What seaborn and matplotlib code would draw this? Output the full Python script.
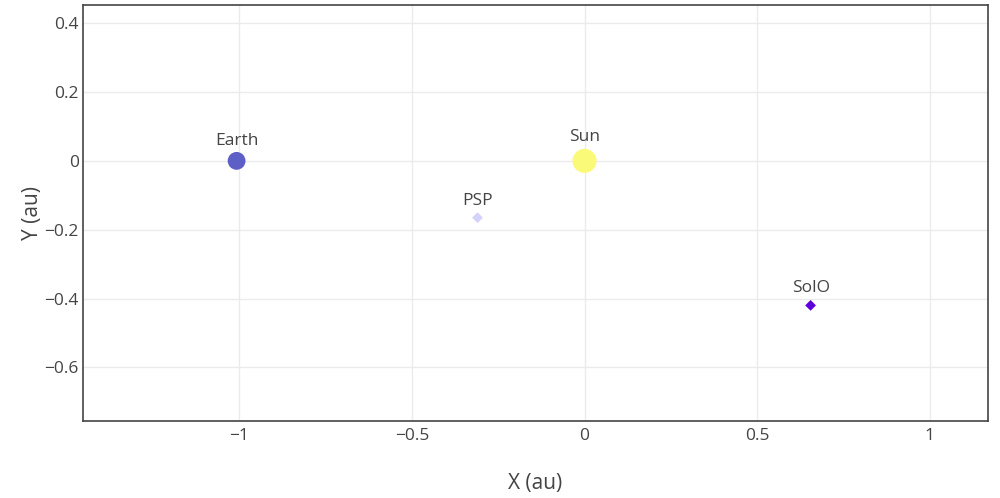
import matplotlib
matplotlib.use("Agg")
import matplotlib.pyplot as plt
import seaborn as sns
import pandas as pd

bodies = ["Earth", "Sun", "PSP", "SolO"]
x_au = [-1.008, 0.0, -0.31, 0.655]
y_au = [0.0, 0.0, -0.165, -0.42]
colors = {"Earth": "#5e5fc6", "Sun": "#fbfa78", "PSP": "#d2d2fa", "SolO": "#5f00dc"}
markers = {"Earth": "o", "Sun": "o", "PSP": "D", "SolO": "D"}
sizes = {"Earth": 165, "Sun": 300, "PSP": 30, "SolO": 30}
label_offset_px = {"Earth": 12, "Sun": 16, "PSP": 9, "SolO": 9}

df = pd.DataFrame({"body": bodies, "x": x_au, "y": y_au})

sns.set_theme(style="white")
plt.rcParams["font.family"] = ["Open Sans", "DejaVu Sans"]

fig = plt.figure(figsize=(10, 4.98), dpi=100)
ax = fig.add_axes([0.083, 1 - 421 / 498, 0.905, (421 - 5) / 498])

sns.scatterplot(data=df, x="x", y="y", hue="body", style="body", size="body",
                palette=colors, markers=markers, sizes=sizes, linewidth=0,
                legend=False, ax=ax, zorder=3)

for b, xv, yv in zip(bodies, x_au, y_au):
    ax.annotate(b, (xv, yv), xytext=(0, label_offset_px[b] * 0.72),
                textcoords="offset points", ha="center", va="bottom",
                fontsize=12.5, color="#444444", zorder=4)

ax.set_xlim(-1.453, 1.169)
ax.set_ylim(-0.756, 0.453)
ax.set_xticks([-1, -0.5, 0, 0.5, 1])
ax.set_xticklabels(["\u22121", "\u22120.5", "0", "0.5", "1"])
ax.set_yticks([0.4, 0.2, 0, -0.2, -0.4, -0.6])
ax.set_yticklabels(["0.4", "0.2", "0", "\u22120.2", "\u22120.4", "\u22120.6"])
ax.grid(True, color="#ebebeb", linewidth=1)
ax.set_axisbelow(True)
ax.tick_params(axis="both", length=0, labelsize=12.5, labelcolor="#444444")
ax.tick_params(axis="y", pad=3)
ax.tick_params(axis="x", pad=5)
for s in ax.spines.values():
    s.set_color("#444444")
    s.set_linewidth(1.2)
ax.set_xlabel("X (au)", fontsize=15, color="#444444", labelpad=21)
ax.set_ylabel("Y (au)", fontsize=15, color="#444444", labelpad=1)

fig.savefig("out.png", dpi=100)
